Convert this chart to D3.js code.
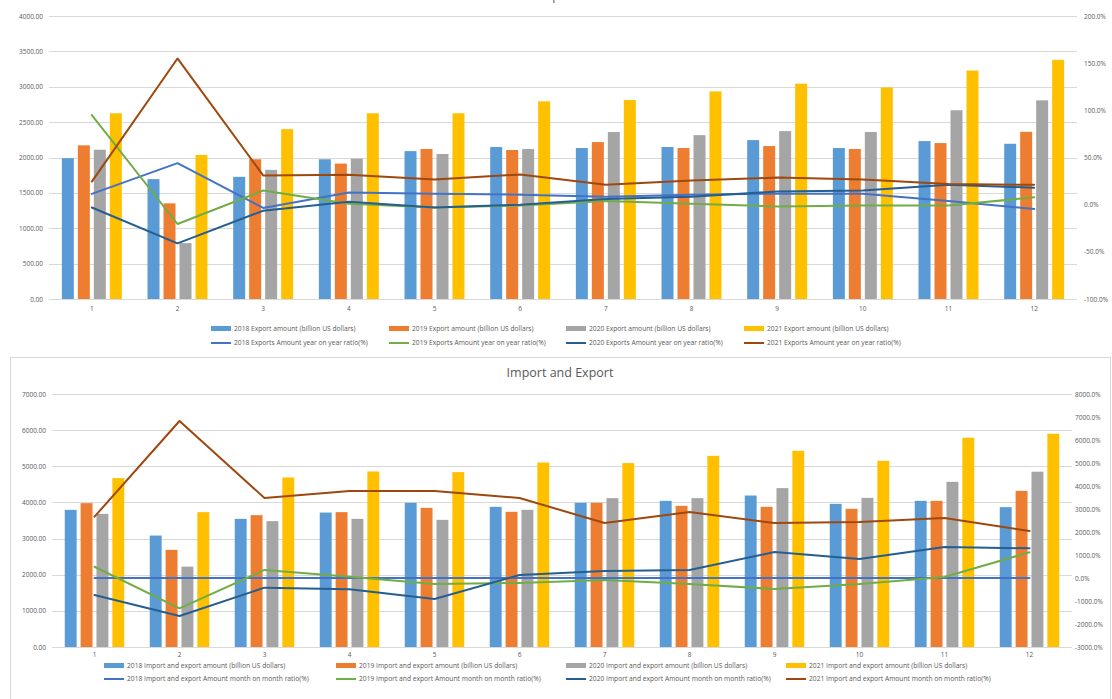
<!DOCTYPE html>
<html>
<head>
<meta charset="utf-8">
<script src="https://cdn.jsdelivr.net/npm/d3@7"></script>
<style>
  body { margin: 0; background: #ffffff; }
  svg { display: block; font-family: "Open Sans", "Noto Sans", sans-serif; }
</style>
</head>
<body>
<svg id="chart" width="1112" height="699"></svg>
<script>
// ---------- data ----------
const months = ["1", "2", "3", "4", "5", "6", "7", "8", "9", "10", "11", "12"];

// Monthly exports (billion US dollars)
const export2018 = [1990, 1694, 1727, 1975, 2090, 2148, 2134, 2148, 2246, 2134, 2232, 2194];
const export2019 = [2172, 1352, 1975, 1914, 2120, 2106, 2218, 2134, 2162, 2120, 2204, 2363];
const export2020 = [2110, 790, 1825, 1984, 2050, 2120, 2360, 2316, 2373, 2360, 2668, 2808];
const export2021 = [2625, 2036, 2401, 2625, 2625, 2794, 2812, 2934, 3043, 2990, 3229, 3380];

// Exports, year-on-year ratio (%)
const exportYoY2018 = [11.4, 44, -3.5, 13, 11.7, 10.6, 8.5, 10.6, 11.7, 11.7, 4, -4.6];
const exportYoY2019 = [95, -20.5, 15, 1, -3, -1, 4, 1, -2, -1, -1, 7.8];
const exportYoY2020 = [-3, -41, -6.4, 3, -3, 0, 6, 8.5, 14, 15, 21, 18];
const exportYoY2021 = [24.5, 155, 31, 31.6, 26.6, 32, 21, 25.5, 28.7, 26.6, 22, 21];

// Monthly imports and exports (billion US dollars)
const trade2018 = [3795, 3083, 3546, 3720, 3989, 3878, 3990, 4044, 4191, 3961, 4044, 3870];
const trade2019 = [3980, 2687, 3648, 3731, 3850, 3740, 3990, 3906, 3878, 3823, 4044, 4320];
const trade2020 = [3684, 2224, 3482, 3546, 3518, 3795, 4119, 4119, 4396, 4127, 4570, 4850];
const trade2021 = [4673, 3731, 4690, 4856, 4839, 5105, 5088, 5290, 5429, 5152, 5790, 5900];

// Imports and exports, month-on-month ratio (%)
const tradeMoM2018 = [0, 0, 0, 0, 0, 0, 0, 0, 0, 0, 0, 0];
const tradeMoM2019 = [490, -1317, 350, 57, -260, -217, -87, -260, -478, -260, 43, 1117];
const tradeMoM2020 = [-740, -1650, -420, -490, -910, 130, 300, 350, 1130, 830, 1350, 1290];
const tradeMoM2021 = [2665, 6826, 3478, 3783, 3783, 3478, 2391, 2870, 2391, 2435, 2609, 2043];

// Axis ticks
const exportAmountTicks = [0, 500, 1000, 1500, 2000, 2500, 3000, 3500, 4000];
const exportRatioTicks = [-100, -50, 0, 50, 100, 150, 200];
const tradeAmountTicks = [0, 1000, 2000, 3000, 4000, 5000, 6000, 7000];
const tradeRatioTicks = [-3000, -2000, -1000, 0, 1000, 2000, 3000, 4000, 5000, 6000, 7000, 8000];

// Legend labels
const exportBarNames = [
  "2018 Export amount (billion US dollars)",
  "2019 Export amount (billion US dollars)",
  "2020 Export amount (billion US dollars)",
  "2021 Export amount (billion US dollars)"
];
const exportLineNames = [
  "2018 Exports Amount year on year ratio(%)",
  "2019 Exports Amount year on year ratio(%)",
  "2020 Exports Amount year on year ratio(%)",
  "2021 Exports Amount year on year ratio(%)"
];
const tradeBarNames = [
  "2018 Import and export amount (billion US dollars)",
  "2019 Import and export amount (billion US dollars)",
  "2020 Import and export amount (billion US dollars)",
  "2021 Import and export amount (billion US dollars)"
];
const tradeLineNames = [
  "2018 Import and export  Amount month on month ratio(%)",
  "2019 Import and export  Amount month on month ratio(%)",
  "2020 Import and export  Amount month on month ratio(%)",
  "2021 Import and export  Amount month on month ratio(%)"
];

// ---------- styling ----------
const barColors = ["#5B9BD5", "#ED7D31", "#A5A5A5", "#FFC000"];
const lineColors = ["#4472C4", "#70AD47", "#255E91", "#9E480E"];
const textColor = "#595959";
const gridColor = "#d9d9d9";

const svg = d3.select("#chart");

function drawChart(cfg) {
  const g = svg.append("g");

  const x = d3.scaleBand().domain(months).range([cfg.left, cfg.right]).padding(0);
  const groupWidth = x.bandwidth() * 0.70;
  const xs = d3.scaleBand().domain(d3.range(cfg.bars.length))
    .range([0, groupWidth]).paddingInner(0.25).paddingOuter(0);
  const yL = d3.scaleLinear().domain(cfg.leftDomain).range([cfg.bottom, cfg.top]);
  const yR = d3.scaleLinear().domain(cfg.rightDomain).range([cfg.bottom, cfg.top]);

  // gridlines (primary axis)
  g.append("g").selectAll("line").data(cfg.leftTicks).join("line")
    .attr("x1", cfg.left).attr("x2", cfg.right)
    .attr("y1", d => Math.round(yL(d)) + 0.5).attr("y2", d => Math.round(yL(d)) + 0.5)
    .attr("stroke", gridColor).attr("stroke-width", 1);

  // left axis
  const axL = g.append("g").attr("transform", `translate(${cfg.left - 6},0)`)
    .call(d3.axisLeft(yL).tickValues(cfg.leftTicks).tickSize(0).tickPadding(0)
      .tickFormat(d3.format(".2f")));
  axL.select(".domain").remove();
  axL.selectAll("text").attr("fill", textColor).attr("font-size", 6.5)
    .attr("font-family", "Open Sans, sans-serif");

  // right axis
  const axR = g.append("g").attr("transform", `translate(${cfg.right + cfg.rightGap},0)`)
    .call(d3.axisRight(yR).tickValues(cfg.rightTicks).tickSize(0).tickPadding(0)
      .tickFormat(d => d.toFixed(1) + "%"));
  axR.select(".domain").remove();
  axR.selectAll("text").attr("fill", textColor).attr("font-size", 6.5)
    .attr("font-family", "Open Sans, sans-serif");

  // category labels
  g.append("g").selectAll("text").data(months).join("text")
    .attr("x", d => x(d) + x.bandwidth() / 2)
    .attr("y", cfg.bottom + cfg.labelGap)
    .attr("text-anchor", "middle")
    .attr("fill", textColor).attr("font-size", 6.5)
    .text(d => d);

  // clustered bars
  cfg.bars.forEach((series, si) => {
    g.append("g").selectAll("rect").data(series).join("rect")
      .attr("x", (d, i) => x(months[i]) + (x.bandwidth() - groupWidth) / 2 + xs(si))
      .attr("width", xs.bandwidth())
      .attr("y", d => yL(d))
      .attr("height", d => yL(0) - yL(d))
      .attr("fill", barColors[si]);
  });

  // ratio lines
  const line = d3.line()
    .x((d, i) => x(months[i]) + x.bandwidth() / 2)
    .y(d => yR(d));
  cfg.lines.forEach((series, si) => {
    g.append("path").datum(series)
      .attr("d", line)
      .attr("fill", "none")
      .attr("stroke", lineColors[si])
      .attr("stroke-width", 2)
      .attr("stroke-linejoin", "round")
      .attr("stroke-linecap", "round");
  });

  // title
  g.append("text")
    .attr("x", cfg.titleX).attr("y", cfg.titleY)
    .attr("text-anchor", "middle")
    .attr("fill", textColor).attr("font-size", 12.5)
    .text(cfg.title);

  // legend
  const leg = g.append("g").attr("font-size", 6.7).attr("fill", textColor);
  cfg.barNames.forEach((name, i) => {
    const lx = cfg.legendCols[i], ly = cfg.legendRows[0];
    leg.append("rect").attr("x", lx).attr("y", ly - 3).attr("width", 20).attr("height", 5)
      .attr("fill", barColors[i]);
    leg.append("text").attr("x", lx + 23).attr("y", ly + 2).text(name);
  });
  cfg.lineNames.forEach((name, i) => {
    const lx = cfg.legendCols[i], ly = cfg.legendRows[1];
    leg.append("line").attr("x1", lx).attr("x2", lx + 20).attr("y1", ly).attr("y2", ly)
      .attr("stroke", lineColors[i]).attr("stroke-width", 2);
    leg.append("text").attr("x", lx + 23).attr("y", ly + 2).text(name);
  });
}

// Exports chart (top)
drawChart({
  title: "Export", titleX: 558, titleY: 0,
  left: 49, right: 1077, top: 16, bottom: 299, rightGap: 7, labelGap: 12,
  leftDomain: [0, 4000], rightDomain: [-100, 200],
  leftTicks: exportAmountTicks, rightTicks: exportRatioTicks,
  bars: [export2018, export2019, export2020, export2021],
  lines: [exportYoY2018, exportYoY2019, exportYoY2020, exportYoY2021],
  barNames: exportBarNames, lineNames: exportLineNames,
  legendCols: [211, 389, 566, 744], legendRows: [329, 343]
});

// Import and export chart (bottom), framed
svg.append("rect")
  .attr("x", 10.5).attr("y", 357.5).attr("width", 1100).attr("height", 400)
  .attr("fill", "none").attr("stroke", gridColor).attr("stroke-width", 1);

drawChart({
  title: "Import and Export", titleX: 560, titleY: 377,
  left: 52, right: 1072, top: 394, bottom: 647, rightGap: 3, labelGap: 10,
  leftDomain: [0, 7000], rightDomain: [-3000, 8000],
  leftTicks: tradeAmountTicks, rightTicks: tradeRatioTicks,
  bars: [trade2018, trade2019, trade2020, trade2021],
  lines: [tradeMoM2018, tradeMoM2019, tradeMoM2020, tradeMoM2021],
  barNames: tradeBarNames, lineNames: tradeLineNames,
  legendCols: [104, 336, 566, 786], legendRows: [666, 679]
});
</script>
</body>
</html>
